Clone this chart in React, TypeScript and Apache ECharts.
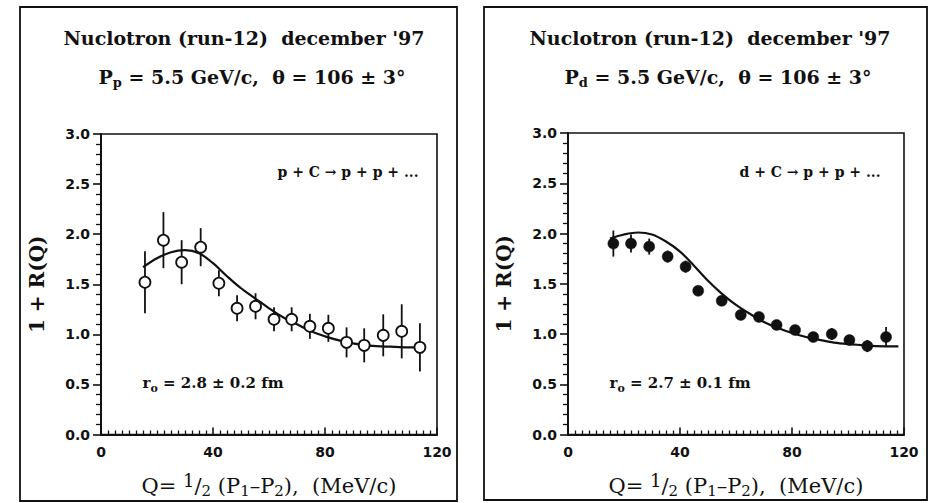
import React, { useEffect, useRef } from "react";
import * as echarts from "echarts";

// Left panel: p + C -> p + p + ...  (open circles)
const Q_P = [15.7, 22.3, 28.8, 35.6, 42.1, 48.6, 55.2, 61.8, 68.1, 74.6, 81.2, 87.7, 94.0, 100.8, 107.4, 113.9];
const R_P = [1.52, 1.94, 1.72, 1.87, 1.51, 1.26, 1.28, 1.15, 1.15, 1.08, 1.06, 0.92, 0.89, 0.99, 1.03, 0.87];
const E_P = [0.31, 0.28, 0.22, 0.19, 0.13, 0.13, 0.13, 0.12, 0.12, 0.125, 0.135, 0.15, 0.17, 0.21, 0.27, 0.24];
const FIT_Q_P = [15, 20, 25, 30, 35, 40, 45, 50, 55, 60, 65, 70, 75, 80, 85, 90, 95, 100, 105, 110, 116];
const FIT_R_P = [1.67, 1.76, 1.82, 1.84, 1.81, 1.71, 1.58, 1.46, 1.36, 1.26, 1.17, 1.1, 1.03, 0.98, 0.94, 0.91, 0.89, 0.88, 0.875, 0.87, 0.87];

// Right panel: d + C -> p + p + ...  (filled circles)
const Q_D = [16.2, 22.5, 29.0, 35.6, 42.0, 46.5, 54.9, 61.7, 68.2, 74.5, 81.1, 87.6, 94.2, 100.5, 106.9, 113.6];
const R_D = [1.9, 1.9, 1.87, 1.77, 1.67, 1.43, 1.33, 1.19, 1.17, 1.09, 1.04, 0.97, 1.0, 0.94, 0.88, 0.97];
const E_D = [0.13, 0.09, 0.08, 0.06, 0.06, 0.04, 0.05, 0.05, 0.05, 0.05, 0.05, 0.05, 0.06, 0.05, 0.06, 0.1];
const FIT_Q_D = [15, 20, 25, 30, 35, 40, 45, 50, 55, 60, 65, 70, 75, 80, 85, 90, 95, 100, 105, 110, 118];
const FIT_R_D = [1.95, 1.99, 2.01, 1.99, 1.92, 1.82, 1.68, 1.53, 1.4, 1.29, 1.2, 1.12, 1.06, 1.01, 0.97, 0.94, 0.915, 0.9, 0.89, 0.88, 0.877];

const X_TICKS = [0, 40, 80, 120];
const Y_TICKS = [0, 0.5, 1.0, 1.5, 2.0, 2.5, 3.0];

const TITLE = "Nuclotron (run-12)  december '97";

const INK = "#111";
const SERIF = "'DejaVu Serif', 'Liberation Serif', serif";
const SANS = "'DejaVu Sans', 'Liberation Sans', Arial, sans-serif";

const richBase = (size: number, weight: string) => ({
  a: { fontFamily: SERIF, fontSize: size, fontWeight: weight, color: INK, fill: INK },
  sub: { fontFamily: SERIF, fontSize: Math.round(size * 0.7), fontWeight: weight, color: INK, fill: INK, padding: [10, 0, 0, 0] },
  sup: { fontFamily: SERIF, fontSize: Math.round(size * 0.85), fontWeight: weight, color: INK, fill: INK, padding: [0, 0, 10, 0] },
});

export default function App() {
  const ref = useRef<HTMLDivElement>(null);
  useEffect(() => {
    if (!ref.current) return;
    const chart = echarts.init(ref.current, null, { renderer: "svg" });

    const xAxis = (gi: number) => ({
      type: "value",
      gridIndex: gi,
      min: X_TICKS[0],
      max: X_TICKS[X_TICKS.length - 1],
      interval: 40,
      axisLine: { show: true, lineStyle: { color: INK, width: 2 } },
      axisTick: { show: true, inside: true, length: 7, lineStyle: { color: INK, width: 1.6 } },
      minorTick: { show: true, splitNumber: 16, length: 4, lineStyle: { color: INK, width: 1.3 } },
      splitLine: { show: false },
      axisLabel: { color: INK, fontFamily: SANS, fontWeight: "bold", fontSize: 14, margin: 10 },
      name: "{a|Q= }{sup|1}{a|/}{sub|2}{a| (P}{sub|1}{a|–P}{sub|2}{a|),  (MeV/c)}",
      nameLocation: "middle",
      nameGap: 37,
      nameTextStyle: { rich: richBase(21, "normal") },
    });
    const yAxis = (gi: number) => ({
      type: "value",
      gridIndex: gi,
      min: Y_TICKS[0],
      max: Y_TICKS[Y_TICKS.length - 1],
      interval: 0.5,
      axisLine: { show: true, lineStyle: { color: INK, width: 2 } },
      axisTick: { show: true, inside: false, length: 8, lineStyle: { color: INK, width: 1.6 } },
      minorTick: { show: true, splitNumber: 5, length: 5, lineStyle: { color: INK, width: 1.3 } },
      splitLine: { show: false },
      axisLabel: {
        color: INK,
        fontFamily: SANS,
        fontWeight: "bold",
        fontSize: 14,
        margin: 11,
        formatter: (v: number) => v.toFixed(1),
      },
      name: "1 + R(Q)",
      nameLocation: "middle",
      nameGap: 54,
      nameRotate: 90,
      nameTextStyle: { fontFamily: SERIF, fontWeight: "bold", fontSize: 20, color: INK },
    });

    const errSeries = (gi: number, qs: number[], rs: number[], es: number[]) => ({
      type: "custom",
      xAxisIndex: gi,
      yAxisIndex: gi,
      z: 2,
      encode: { x: 0, y: [1, 2] },
      data: qs.map((q, i) => [q, rs[i] - es[i], rs[i] + es[i]]),
      renderItem: (_p: any, api: any) => {
        const a = api.coord([api.value(0), api.value(1)]);
        const b = api.coord([api.value(0), api.value(2)]);
        return {
          type: "line",
          shape: { x1: a[0], y1: a[1], x2: b[0], y2: b[1] },
          style: { stroke: INK, lineWidth: 1.8 },
        };
      },
    });

    const fitSeries = (gi: number, qs: number[], rs: number[]) => ({
      type: "line",
      xAxisIndex: gi,
      yAxisIndex: gi,
      z: 3,
      smooth: 0.35,
      showSymbol: false,
      lineStyle: { color: INK, width: 2.2 },
      data: qs.map((q, i) => [q, rs[i]]),
    });

    const pointSeries = (gi: number, qs: number[], rs: number[], filled: boolean) => ({
      type: "scatter",
      xAxisIndex: gi,
      yAxisIndex: gi,
      z: 4,
      symbol: "circle",
      symbolSize: 11,
      itemStyle: filled
        ? { color: INK, borderColor: INK, borderWidth: 0.5, opacity: 1 }
        : { color: "#fff", borderColor: INK, borderWidth: 1.8, opacity: 1 },
      data: qs.map((q, i) => [q, rs[i]]),
    });

    const text = (x: number, y: number, t: string, size: number, weight: string) => ({
      type: "text",
      x,
      y,
      style: {
        text: t,
        align: "center",
        verticalAlign: "middle",
        fontFamily: SERIF,
        fontSize: size,
        fontWeight: weight,
        fill: INK,
        rich: richBase(size, weight),
      },
    });

    chart.setOption({
      animation: false,
      backgroundColor: "#fff",
      grid: [
        { left: 101, top: 134, width: 336, height: 301, show: true, borderColor: INK, borderWidth: 1.6, backgroundColor: "transparent" },
        { left: 568, top: 133, width: 336, height: 302, show: true, borderColor: INK, borderWidth: 1.6, backgroundColor: "transparent" },
      ],
      xAxis: [xAxis(0), xAxis(1)],
      yAxis: [yAxis(0), yAxis(1)],
      series: [
        errSeries(0, Q_P, R_P, E_P),
        fitSeries(0, FIT_Q_P, FIT_R_P),
        pointSeries(0, Q_P, R_P, false),
        errSeries(1, Q_D, R_D, E_D),
        fitSeries(1, FIT_Q_D, FIT_R_D),
        pointSeries(1, Q_D, R_D, true),
      ],
      graphic: [
        { type: "rect", shape: { x: 20, y: 7, width: 437, height: 494 }, style: { fill: "none", stroke: INK, lineWidth: 1.8 } },
        { type: "rect", shape: { x: 484, y: 7, width: 443, height: 493 }, style: { fill: "none", stroke: INK, lineWidth: 1.8 } },
        text(244, 38, `{a|${TITLE}}`, 19, "bold"),
        text(710, 38, `{a|${TITLE}}`, 19, "bold"),
        text(252, 77, "{a|P}{sub|p}{a| = 5.5 GeV/c,  θ = 106 ± 3°}", 19, "bold"),
        text(718, 77, "{a|P}{sub|d}{a| = 5.5 GeV/c,  θ = 106 ± 3°}", 19, "bold"),
        text(348, 172, "{a|p + C → p + p + ...}", 14, "bold"),
        text(810, 172, "{a|d + C → p + p + ...}", 14, "bold"),
        text(213, 383, "{a|r}{sub|o}{a| = 2.8 ± 0.2 fm}", 15, "bold"),
        text(680, 383, "{a|r}{sub|o}{a| = 2.7 ± 0.1 fm}", 15, "bold"),
      ],
    });
    return () => chart.dispose();
  }, []);
  return <div ref={ref} style={{ position: "fixed", left: 0, top: 0, width: 932, height: 503 }} />;
}
